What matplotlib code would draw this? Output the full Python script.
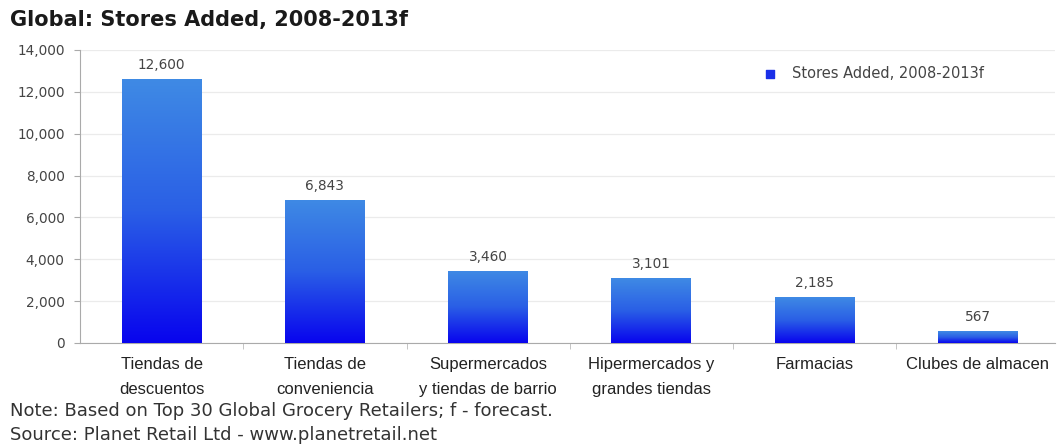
import numpy as np
import matplotlib
matplotlib.use("Agg")
import matplotlib.pyplot as plt
from matplotlib.colors import LinearSegmentedColormap

categories = [
    "Tiendas de\ndescuentos",
    "Tiendas de\nconveniencia",
    "Supermercados\ny tiendas de barrio",
    "Hipermercados y\ngrandes tiendas",
    "Farmacias",
    "Clubes de almacen",
]
stores_added = [12600, 6843, 3460, 3101, 2185, 567]
value_labels = ["12,600", "6,843", "3,460", "3,101", "2,185", "567"]
yticks = [0, 2000, 4000, 6000, 8000, 10000, 12000, 14000]
ytick_labels = ["0", "2,000", "4,000", "6,000", "8,000", "10,000", "12,000", "14,000"]
series_name = "Stores Added, 2008-2013f"
title = "Global: Stores Added, 2008-2013f"
note_lines = [
    "Note: Based on Top 30 Global Grocery Retailers; f - forecast.",
    "Source: Planet Retail Ltd - www.planetretail.net",
]

fig = plt.figure(figsize=(10.64, 4.46), dpi=100)
ax = fig.add_axes([0.0752, 0.231, 0.916, 0.657])

x = np.arange(len(categories))
bar_w = 0.49
bars = ax.bar(x, stores_added, width=bar_w, color="none", edgecolor="none", zorder=3)

# vertical gradient fill for each bar: light blue at top, deep blue at bottom
cmap = LinearSegmentedColormap.from_list("bluegrad", ["#0804ee", "#2a5fe6", "#3f8ae4"])
grad = np.linspace(0, 1, 256).reshape(-1, 1)
for b in bars:
    x0, y0 = b.get_x(), b.get_y()
    w, h = b.get_width(), b.get_height()
    im = ax.imshow(grad, cmap=cmap, aspect="auto", origin="lower",
                   extent=[x0, x0 + w, y0, y0 + h], zorder=3)
    im.set_clip_path(b)

for xi, v, lab in zip(x, stores_added, value_labels):
    ax.annotate(lab, (xi, v), xytext=(0, 5), textcoords="offset points",
                ha="center", va="bottom", fontsize=9.8, color="#444444",
                family="DejaVu Sans")

ax.set_xlim(-0.5, 5.47)
ax.set_ylim(0, 14000)
ax.set_yticks(yticks)
ax.set_yticklabels(ytick_labels, fontsize=9.8, color="#444444", family="DejaVu Sans")
ax.grid(axis="y", color="#ebebeb", linewidth=0.9, zorder=0)
ax.set_axisbelow(True)

ax.set_xticks(x)
ax.set_xticklabels(categories, fontsize=12, color="#222222",
                   family="Liberation Sans", linespacing=1.82)
ax.set_xticks(x[:-1] + 0.5, minor=True)
ax.tick_params(axis="x", which="major", length=0, pad=10)
ax.tick_params(axis="x", which="minor", length=4, color="#bbbbbb")
ax.tick_params(axis="y", length=4, color="#aaaaaa", pad=7)

for side in ["top", "right"]:
    ax.spines[side].set_visible(False)
ax.spines["left"].set_color("#aaaaaa")
ax.spines["bottom"].set_color("#aaaaaa")

# legend: small blue square with series name
ax.scatter([], [], marker="s", s=30, color="#1a2fe8", label=series_name)
leg = ax.legend(loc="upper left", bbox_to_anchor=(0.683, 0.98), frameon=False,
                handletextpad=0.5, borderaxespad=0.3,
                prop={"family": "DejaVu Sans", "size": 10.5})
for t in leg.get_texts():
    t.set_color("#444444")

fig.text(0.009, 0.955, title, fontsize=15, fontweight="bold",
         color="#1a1a1a", family="DejaVu Sans", va="center", ha="left")
fig.text(0.009, 0.079, note_lines[0], fontsize=13, color="#333333",
         family="DejaVu Sans", va="center", ha="left")
fig.text(0.009, 0.025, note_lines[1], fontsize=13, color="#333333",
         family="DejaVu Sans", va="center", ha="left")

fig.savefig("out.png", dpi=100, facecolor="white")
